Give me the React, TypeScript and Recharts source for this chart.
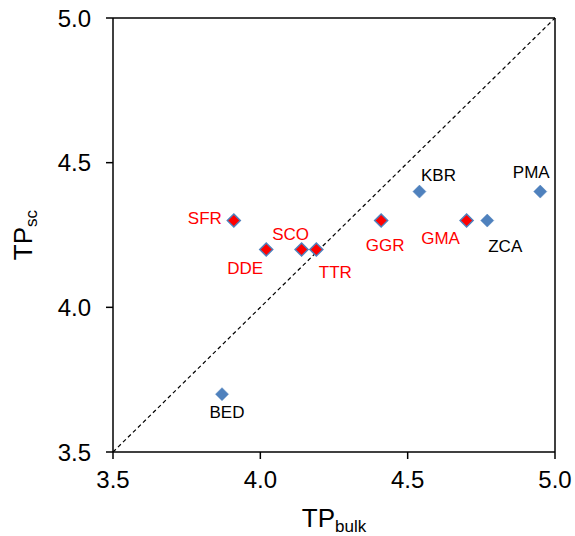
import { ReferenceLine, Scatter, ScatterChart, XAxis, YAxis } from 'recharts'

const names = ['SFR', 'DDE', 'SCO', 'TTR', 'GGR', 'KBR', 'GMA', 'ZCA', 'PMA', 'BED']
const tpBulk = [3.91, 4.02, 4.14, 4.19, 4.41, 4.54, 4.7, 4.77, 4.95, 3.87]
const tpSc = [4.3, 4.2, 4.2, 4.2, 4.3, 4.4, 4.3, 4.3, 4.4, 3.7]
const redGroup = ['SFR', 'DDE', 'SCO', 'TTR', 'GGR', 'GMA']
const axisTicks = [3.5, 4.0, 4.5, 5.0]

// label placement relative to the marker centre (text centre x, baseline y)
const labelOffset: Record<string, [number, number]> = {
  SFR: [-29, 3],
  DDE: [-21, 25],
  SCO: [-11, -9],
  TTR: [19, 29],
  GGR: [4, 30],
  KBR: [19, -11],
  GMA: [-26, 23],
  ZCA: [18, 31],
  PMA: [-9, -14],
  BED: [5, 24],
}

const data = names.map((name, i) => ({ name, x: tpBulk[i], y: tpSc[i] }))

const FONT = '"Liberation Sans", Arial, sans-serif'
const BLUE = '#4F81BD'
const RED = '#FF0000'

function Diamond(props: any) {
  const { cx, cy, payload } = props
  const isRed = redGroup.includes(payload.name)
  const r = 6.5
  const [dx, dy] = labelOffset[payload.name] ?? [0, -10]
  return (
    <g>
      <path
        d={`M${cx},${cy - r} L${cx + r},${cy} L${cx},${cy + r} L${cx - r},${cy} Z`}
        fill={isRed ? RED : BLUE}
        stroke={BLUE}
        strokeWidth={isRed ? 1.5 : 0.5}
      />
      <text
        x={cx + dx}
        y={cy + dy}
        textAnchor="middle"
        fontSize={17}
        fontFamily={FONT}
        fill={isRed ? RED : '#000'}
      >
        {payload.name}
      </text>
    </g>
  )
}

export default function App() {
  return (
    <div style={{ position: 'absolute', left: 0, top: 0, width: 575, height: 536 }}>
      <ScatterChart width={575} height={536} margin={{ top: 18, right: 20, left: 0, bottom: 0 }}>
        <XAxis
          type="number"
          dataKey="x"
          domain={[3.5, 5]}
          ticks={axisTicks}
          tickFormatter={(v) => Number(v).toFixed(1)}
          allowDataOverflow
          height={84}
          tickSize={7}
          tickMargin={12}
          stroke="#000"
          strokeWidth={1.5}
          tick={{ fill: '#000', fontSize: 24, fontFamily: FONT }}
          label={{
            content: ({ viewBox }: any) => (
              <text
                x={viewBox.x + viewBox.width / 2}
                y={viewBox.y + 75}
                textAnchor="middle"
                fontFamily={FONT}
                fill="#000"
              >
                <tspan fontSize={26}>TP</tspan>
                <tspan fontSize={17} dy={5}>bulk</tspan>
              </text>
            ),
          }}
        />
        <YAxis
          type="number"
          dataKey="y"
          domain={[3.5, 5]}
          ticks={axisTicks}
          tickFormatter={(v) => Number(v).toFixed(1)}
          allowDataOverflow
          width={113}
          tickSize={7}
          tickMargin={15}
          stroke="#000"
          strokeWidth={1.5}
          tick={{ fill: '#000', fontSize: 24, fontFamily: FONT }}
          label={{
            content: ({ viewBox }: any) => {
              const cx = 32
              const cy = viewBox.y + viewBox.height / 2
              return (
                <text
                  x={cx}
                  y={cy}
                  transform={`rotate(-90 ${cx} ${cy})`}
                  textAnchor="middle"
                  fontFamily={FONT}
                  fill="#000"
                >
                  <tspan fontSize={26}>TP</tspan>
                  <tspan fontSize={17} dy={5}>sc</tspan>
                </text>
              )
            },
          }}
        />
        <ReferenceLine y={5} stroke="#000" strokeWidth={1.5} />
        <ReferenceLine x={5} stroke="#000" strokeWidth={1.5} />
        <ReferenceLine
          segment={[
            { x: 3.5, y: 3.5 },
            { x: 5, y: 5 },
          ]}
          stroke="#000"
          strokeWidth={1.2}
          strokeDasharray="4 3"
        />
        <Scatter data={data} shape={Diamond} isAnimationActive={false} />
      </ScatterChart>
    </div>
  )
}
